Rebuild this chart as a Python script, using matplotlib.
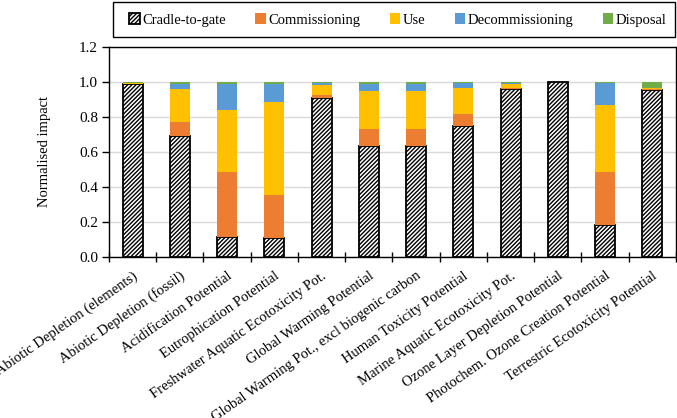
import matplotlib
matplotlib.use("Agg")
import matplotlib.pyplot as plt
from matplotlib.patches import Rectangle
import numpy as np

categories = [
    "Abiotic Depletion (elements)",
    "Abiotic Depletion (fossil)",
    "Acidification Potential",
    "Eutrophication Potential",
    "Freshwater Aquatic Ecotoxicity Pot.",
    "Global Warming Potential",
    "Global Warming Pot., excl biogenic carbon",
    "Human Toxicity Potential",
    "Marine Aquatic Ecotoxicity Pot.",
    "Ozone Layer Depletion Potential",
    "Photochem. Ozone Creation Potential",
    "Terrestric Ecotoxicity Potential",
]
stages = ["Cradle-to-gate", "Commissioning", "Use", "Decommissioning", "Disposal"]

cradle = [0.985, 0.690, 0.114, 0.109, 0.905, 0.633, 0.633, 0.747, 0.957, 0.998, 0.181, 0.952]
commissioning = [0.002, 0.080, 0.370, 0.245, 0.019, 0.097, 0.097, 0.068, 0.009, 0.000, 0.301, 0.005]
use = [0.006, 0.186, 0.356, 0.530, 0.057, 0.219, 0.219, 0.149, 0.021, 0.000, 0.383, 0.005]
decommissioning = [0.002, 0.029, 0.145, 0.101, 0.009, 0.040, 0.040, 0.026, 0.003, 0.000, 0.125, 0.001]
disposal = [0.005, 0.015, 0.015, 0.015, 0.010, 0.011, 0.011, 0.010, 0.010, 0.002, 0.010, 0.037]

colors = ["white", "#ED7D31", "#FFC000", "#5B9BD5", "#70AD47"]

plt.rcParams["font.family"] = ["Liberation Serif", "DejaVu Serif"]
plt.rcParams["font.size"] = 10
plt.rcParams["hatch.linewidth"] = 1.0

fig = plt.figure(figsize=(6.77, 4.18), dpi=100)
ax = fig.add_axes([109 / 677, 1 - 256.7 / 418, 567 / 677, 210 / 418])

x = np.arange(len(categories))
width = 0.42
series = [cradle, commissioning, use, decommissioning, disposal]
bottom = np.zeros(len(categories))
handles = []
for i, (name, vals) in enumerate(zip(stages, series)):
    vals = np.array(vals)
    if i == 0:
        h = ax.bar(x, vals, width, bottom=bottom, color="white", edgecolor="black",
                   hatch="////////", linewidth=1.3, label=name, zorder=3)
    else:
        h = ax.bar(x, vals, width, bottom=bottom, color=colors[i], linewidth=0,
                   label=name, zorder=3)
    handles.append(h)
    bottom += vals

ax.set_xlim(-0.5, len(categories) - 0.5)
ax.set_ylim(0, 1.2)
ax.set_yticks(np.arange(0, 1.21, 0.2))
ax.yaxis.set_major_formatter(matplotlib.ticker.FormatStrFormatter("%.1f"))
ax.tick_params(axis="y", direction="out", length=5, width=1, labelsize=11, pad=3)
ax.grid(axis="y", color="#d9d9d9", linewidth=1, zorder=0)
ax.set_ylabel("Normalised impact", fontsize=10.5, labelpad=20)

# category labels under bars, tick marks between categories
ax.set_xticks(x)
ax.set_xticklabels(categories, rotation=35, ha="right", rotation_mode="anchor", fontsize=10.5)
ax.tick_params(axis="x", length=0, pad=9)
ax.set_xticks(np.arange(-0.5, len(categories), 1.0), minor=True)
ax.tick_params(axis="x", which="minor", direction="inout", length=7, width=1)

for s in ax.spines.values():
    s.set_color("black")
    s.set_linewidth(1)

# legend box drawn separately, entries centred inside it
fig.patches.append(Rectangle((113 / 677, 1 - 37 / 418), 562 / 677, 35 / 418,
                             transform=fig.transFigure, fill=False,
                             edgecolor="black", linewidth=1))
leg = fig.legend(handles, stages, loc="center", ncol=5,
                 bbox_to_anchor=(398 / 677, 1 - 20 / 418),
                 frameon=False, fontsize=10.5,
                 handlelength=0.7, handleheight=0.7, handletextpad=0.2,
                 columnspacing=2.0, borderpad=0, borderaxespad=0)

fig.savefig("out.png", dpi=100)
